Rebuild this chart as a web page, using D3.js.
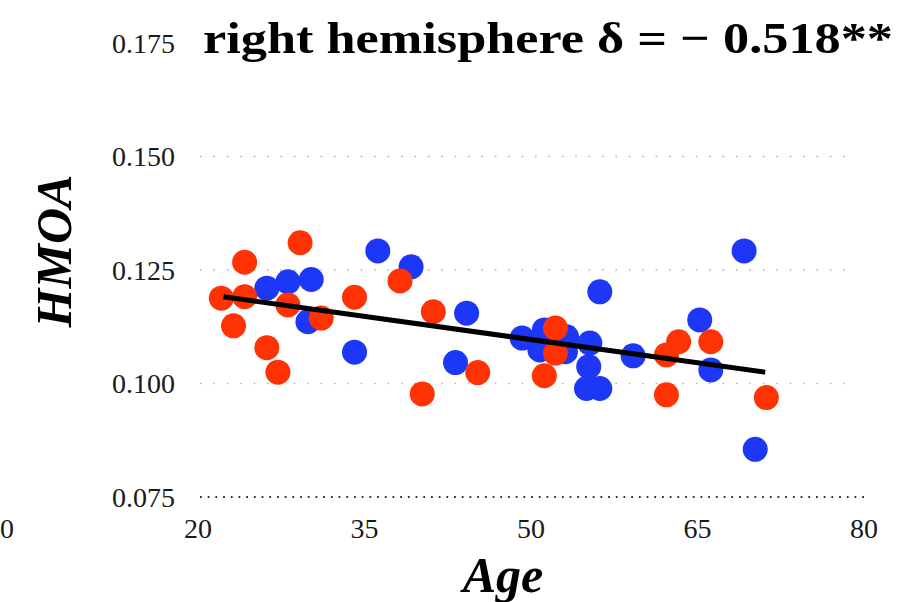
<!DOCTYPE html>
<html>
<head>
<meta charset="utf-8">
<script src="https://cdn.jsdelivr.net/npm/d3@7"></script>
<style>
  html, body { margin: 0; padding: 0; background: #fff; }
  svg { display: block; }
</style>
</head>
<body>
<svg id="chart" width="909" height="602"></svg>
<script>
// ---- data ----
const titleText = "right hemisphere \u03b4 = \u2212 0.518**";
const xLabel = "Age";
const yLabel = "HMOA";
const xTicks = [20, 35, 50, 65, 80];
const yTicks = [0.075, 0.100, 0.125, 0.150, 0.175];
const gridValues = [0.100, 0.125, 0.150];
const baseGrid = 0.075;
const edgeRemnant = "0";

const blueAge  = [26.2, 28.1, 30.2, 29.9, 36.2, 39.2, 44.2, 34.1, 43.2, 49.2, 51.2, 53.2, 50.8, 53.1, 55.3, 55.2, 55.0, 56.2, 56.2, 59.2, 65.2, 66.2, 69.2, 70.2];
const blueHmoa = [0.1210, 0.1224, 0.1229, 0.1136, 0.1292, 0.1257, 0.1155, 0.1069, 0.1046, 0.1100, 0.1118, 0.1103, 0.1074, 0.1070, 0.1089, 0.1037, 0.0989, 0.0989, 0.1202, 0.1061, 0.1140, 0.1030, 0.1292, 0.0855];

const redAge  = [29.2, 24.2, 22.1, 24.2, 28.1, 31.1, 23.2, 26.2, 27.2, 38.2, 34.1, 41.2, 45.2, 40.2, 52.2, 52.2, 51.2, 63.3, 62.2, 66.2, 62.2, 71.2];
const redHmoa = [0.1310, 0.1267, 0.1188, 0.1191, 0.1173, 0.1144, 0.1127, 0.1079, 0.1025, 0.1226, 0.1190, 0.1158, 0.1024, 0.0977, 0.1122, 0.1067, 0.1017, 0.1092, 0.1063, 0.1092, 0.0975, 0.0969];

const trendAge  = [22.3, 71.1];
const trendHmoa = [0.1191, 0.1025];

// ---- layout ----
const svg = d3.select("#chart");
const x = d3.scaleLinear().domain([20, 80]).range([198, 864]);
const y = d3.scaleLinear().domain([0.075, 0.175]).range([497, 43]);

const serif = "'Liberation Serif', 'Times New Roman', serif";

// gridlines
svg.append("g").selectAll("line").data(gridValues).join("line")
  .attr("x1", x(20) + 2).attr("x2", x(80) - 8)
  .attr("y1", d => y(d)).attr("y2", d => y(d))
  .attr("stroke", "#b5b5b5").attr("stroke-width", 1.6)
  .attr("stroke-dasharray", "1.6,11.8");

svg.append("line")
  .attr("x1", x(20) + 2).attr("x2", x(80) + 2)
  .attr("y1", y(baseGrid)).attr("y2", y(baseGrid))
  .attr("stroke", "#333").attr("stroke-width", 1.8)
  .attr("stroke-dasharray", "1.8,5.9");

// y tick labels
svg.append("g").selectAll("text").data(yTicks).join("text")
  .attr("x", 175).attr("y", d => y(d))
  .attr("dy", "0.35em")
  .attr("text-anchor", "end")
  .style("font-family", serif).style("font-size", "28px").attr("fill", "#1a1a1a")
  .text(d => d3.format(".3f")(d));

// x tick labels
svg.append("g").selectAll("text").data(xTicks).join("text")
  .attr("x", d => x(d)).attr("y", 538)
  .attr("text-anchor", "middle")
  .style("font-family", serif).style("font-size", "28px").attr("fill", "#1a1a1a")
  .text(d => d);

// remnant of neighbouring panel tick at the left edge
svg.append("text")
  .attr("x", 0).attr("y", 538).attr("text-anchor", "start")
  .style("font-family", serif).style("font-size", "28px").attr("fill", "#1a1a1a")
  .text(edgeRemnant);

// points
const blue = blueAge.map((a, i) => ({ a, v: blueHmoa[i] }));
const red = redAge.map((a, i) => ({ a, v: redHmoa[i] }));

svg.append("g").selectAll("circle").data(blue).join("circle")
  .attr("cx", d => x(d.a)).attr("cy", d => y(d.v)).attr("r", 12.5)
  .attr("fill", "#1c37f6");

svg.append("g").selectAll("circle").data(red).join("circle")
  .attr("cx", d => x(d.a)).attr("cy", d => y(d.v)).attr("r", 12.5)
  .attr("fill", "#fe3203");

// trend line
const trend = trendAge.map((a, i) => ({ a, v: trendHmoa[i] }));
svg.append("path").datum(trend)
  .attr("d", d3.line().x(d => x(d.a)).y(d => y(d.v)))
  .attr("stroke", "#000").attr("stroke-width", 5).attr("fill", "none");

// title
svg.append("text")
  .attr("x", 203).attr("y", 53)
  .attr("textLength", 690).attr("lengthAdjust", "spacingAndGlyphs")
  .style("font-family", serif).style("font-weight", "bold").style("font-size", "45px")
  .attr("fill", "#000")
  .text(titleText);

// axis titles
svg.append("text")
  .attr("x", 503).attr("y", 592).attr("text-anchor", "middle")
  .style("font-family", serif).style("font-weight", "bold").style("font-style", "italic")
  .style("font-size", "50px").attr("fill", "#000")
  .text(xLabel);

svg.append("text")
  .attr("transform", "translate(71,251) rotate(-90)")
  .attr("text-anchor", "middle")
  .style("font-family", serif).style("font-weight", "bold").style("font-style", "italic")
  .style("font-size", "50px").attr("fill", "#000")
  .text(yLabel);
</script>
</body>
</html>
